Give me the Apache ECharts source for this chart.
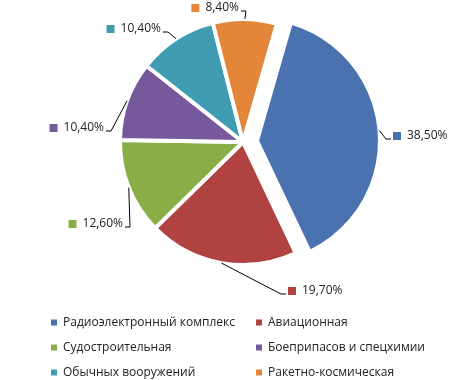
<!DOCTYPE html>
<html>
<head>
<meta charset="utf-8">
<script src="https://cdn.jsdelivr.net/npm/echarts@6/dist/echarts.min.js"></script>
<style>html,body{margin:0;padding:0;background:#fff;}#c{width:469px;height:380px;}</style>
</head>
<body>
<div id="c"></div>
<script>
const categories = ['Радиоэлектронный комплекс','Авиационная','Судостроительная','Боеприпасов и спецхимии','Обычных вооружений','Ракетно-космическая'];
const values = [38.5, 19.7, 12.6, 10.4, 10.4, 8.4];
const colors = ['#4A72AE','#B04341','#8AAE47','#76599B','#3F9CB3','#E3863A'];

const FONT = "'Open Sans', 'Noto Sans', sans-serif";
const CENTER = [243, 142];
const RADIUS = 123;
const START = 74;
const OFFSET = 14;
const SELECTED = 0;

// Excel-like label placement, side: 1 = label to the right of its leader line
const labelPlace = [
  {side: 1, x: 393, y: 136},
  {side: 1, x: 288, y: 291},
  {side: -1, x: 123, y: 224},
  {side: -1, x: 104, y: 128},
  {side: -1, x: 161, y: 29},
  {side: -1, x: 239, y: 8}
];

const total = values.reduce((a, b) => a + b, 0);
function midAngle(i) {
  let cum = 0;
  for (let k = 0; k < i; k++) cum += values[k];
  return (START - 360 * (cum + values[i] / 2) / total) * Math.PI / 180;
}
function edgePoint(i) {
  const a = midAngle(i);
  const r = RADIUS + (i === SELECTED ? OFFSET : 0);
  return [CENTER[0] + r * Math.cos(a), CENTER[1] - r * Math.sin(a)];
}
const fmt = v => v.toFixed(2).replace('.', ',') + '%';

const labelGraphics = [];
values.forEach((v, i) => {
  const lp = labelPlace[i];
  const endX = lp.x - lp.side * 2;
  const endY = lp.y + 3;
  labelGraphics.push({
    type: 'polyline', z: 10, silent: true,
    shape: {points: [edgePoint(i), [endX - lp.side * 5, endY], [endX, endY]]},
    style: {stroke: '#000', lineWidth: 1, fill: null}
  });
  labelGraphics.push({
    type: 'text', z: 10, silent: true, x: lp.x, y: lp.y,
    style: {
      text: '{s|}{t|' + fmt(v) + '}',
      align: lp.side > 0 ? 'left' : 'right',
      verticalAlign: 'middle',
      rich: {
        s: {width: 8, height: 8, backgroundColor: colors[i]},
        t: {fontSize: 12, fontFamily: FONT, fill: '#222', padding: [0, 0, 0, 6]}
      }
    }
  });
});

const chart = echarts.init(document.getElementById('c'), null, {renderer: 'canvas'});
chart.setOption({
  animation: false,
  color: colors,
  legend: {
    left: 49, top: 310, width: 420, padding: 0,
    itemWidth: 8, itemHeight: 8, itemGap: 0, icon: 'rect',
    selectedMode: false,
    textStyle: {fontSize: 12, fontFamily: FONT, color: '#222', width: 191, lineHeight: 25},
    data: categories
  },
  graphic: labelGraphics,
  series: [{
    type: 'pie',
    center: CENTER,
    radius: [0, RADIUS],
    startAngle: START,
    clockwise: true,
    selectedMode: 'single',
    selectedOffset: OFFSET,
    itemStyle: {borderColor: '#fff', borderWidth: 4},
    label: {show: false},
    labelLine: {show: false},
    emphasis: {disabled: true},
    data: categories.map((n, i) => ({name: n, value: values[i], selected: i === SELECTED}))
  }]
});
</script>
</body>
</html>
